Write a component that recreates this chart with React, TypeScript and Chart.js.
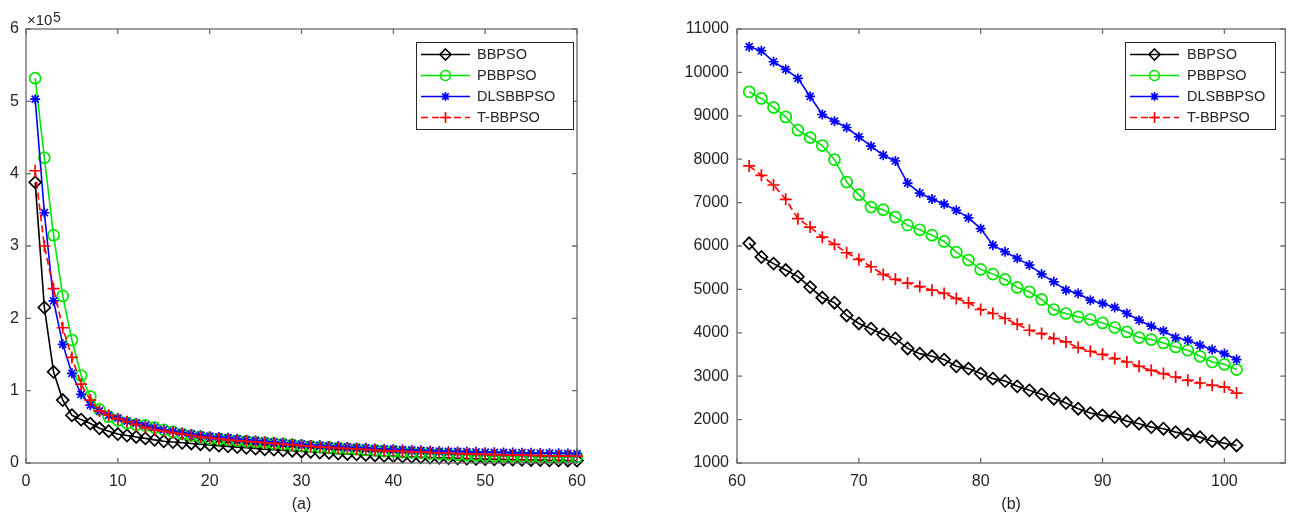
import React, { useEffect, useRef } from 'react';
import { Chart, registerables } from 'chart.js';
Chart.register(...registerables);

const FONT = '"Liberation Sans", Arial, Helvetica, sans-serif';

// ---------- data: panel (a), iterations 1..60, values in units of 1e5 ----------
const itersA = Array.from({ length: 60 }, (_, i) => i + 1);
const bbpsoA = [3.88, 2.15, 1.26, 0.87, 0.66, 0.6, 0.545, 0.48, 0.44, 0.4, 0.38, 0.36, 0.34, 0.32, 0.3, 0.29, 0.28, 0.27, 0.26, 0.25, 0.24, 0.23, 0.22, 0.21, 0.2, 0.19, 0.185, 0.175, 0.17, 0.16, 0.155, 0.145, 0.14, 0.13, 0.125, 0.12, 0.112, 0.105, 0.1, 0.095, 0.09, 0.085, 0.08, 0.076, 0.072, 0.068, 0.064, 0.06, 0.057, 0.054, 0.051, 0.048, 0.046, 0.044, 0.042, 0.04, 0.038, 0.036, 0.035, 0.034];
const pbbpsoA = [5.32, 4.22, 3.15, 2.31, 1.7, 1.21, 0.92, 0.74, 0.64, 0.59, 0.55, 0.53, 0.52, 0.49, 0.46, 0.43, 0.4, 0.38, 0.36, 0.34, 0.33, 0.32, 0.31, 0.3, 0.29, 0.28, 0.27, 0.26, 0.25, 0.24, 0.23, 0.22, 0.215, 0.205, 0.2, 0.19, 0.18, 0.175, 0.165, 0.16, 0.15, 0.145, 0.14, 0.13, 0.125, 0.12, 0.115, 0.11, 0.105, 0.1, 0.098, 0.096, 0.094, 0.092, 0.09, 0.088, 0.087, 0.086, 0.085, 0.084];
const dlsbbpsoA = [5.03, 3.46, 2.24, 1.64, 1.24, 0.95, 0.8, 0.72, 0.66, 0.62, 0.58, 0.55, 0.52, 0.49, 0.46, 0.44, 0.42, 0.4, 0.385, 0.37, 0.36, 0.35, 0.335, 0.32, 0.31, 0.3, 0.29, 0.28, 0.27, 0.26, 0.25, 0.245, 0.235, 0.23, 0.22, 0.215, 0.21, 0.2, 0.195, 0.19, 0.185, 0.18, 0.175, 0.17, 0.165, 0.162, 0.16, 0.157, 0.154, 0.15, 0.148, 0.146, 0.144, 0.142, 0.14, 0.138, 0.136, 0.134, 0.132, 0.13];
const tbbpsoA = [4.04, 3.0, 2.41, 1.87, 1.46, 1.09, 0.87, 0.72, 0.66, 0.61, 0.57, 0.53, 0.49, 0.46, 0.44, 0.42, 0.4, 0.38, 0.36, 0.35, 0.335, 0.32, 0.31, 0.3, 0.29, 0.28, 0.27, 0.26, 0.25, 0.24, 0.23, 0.22, 0.215, 0.205, 0.2, 0.19, 0.185, 0.175, 0.17, 0.165, 0.16, 0.155, 0.15, 0.145, 0.14, 0.135, 0.13, 0.127, 0.124, 0.12, 0.117, 0.114, 0.111, 0.108, 0.105, 0.102, 0.1, 0.098, 0.096, 0.094];

// ---------- data: panel (b), iterations 61..101 ----------
const itersB = Array.from({ length: 41 }, (_, i) => i + 61);
const bbpsoB = [6062, 5746, 5594, 5446, 5294, 5053, 4809, 4694, 4400, 4215, 4093, 3961, 3869, 3640, 3520, 3459, 3383, 3228, 3175, 3060, 2944, 2889, 2766, 2674, 2582, 2482, 2381, 2251, 2150, 2097, 2058, 1965, 1905, 1827, 1790, 1711, 1658, 1596, 1503, 1457, 1404];
const pbbpsoB = [9552, 9400, 9192, 8975, 8668, 8499, 8315, 7991, 7474, 7183, 6897, 6837, 6666, 6481, 6375, 6250, 6105, 5858, 5676, 5461, 5352, 5230, 5045, 4944, 4768, 4537, 4445, 4367, 4306, 4228, 4122, 4020, 3891, 3845, 3766, 3674, 3598, 3459, 3327, 3274, 3152];
const dlsbbpsoB = [10591, 10499, 10245, 10069, 9862, 9446, 9030, 8876, 8730, 8513, 8299, 8091, 7959, 7451, 7220, 7082, 6966, 6821, 6650, 6400, 6020, 5867, 5715, 5560, 5352, 5175, 4983, 4907, 4752, 4676, 4584, 4445, 4290, 4152, 4043, 3891, 3829, 3713, 3614, 3521, 3383];
const tbbpsoB = [7844, 7629, 7405, 7075, 6629, 6435, 6204, 6036, 5845, 5690, 5522, 5345, 5231, 5145, 5065, 4983, 4907, 4791, 4690, 4537, 4445, 4330, 4198, 4059, 3983, 3868, 3789, 3660, 3575, 3505, 3406, 3327, 3228, 3136, 3060, 2981, 2905, 2843, 2789, 2750, 2612];

const seriesNames = ['BBPSO', 'PBBPSO', 'DLSBBPSO', 'T-BBPSO'];
const seriesColors = ['#000000', '#00e600', '#0000ff', '#ff0000'];
const seriesMarkers = ['rectRot', 'circle', 'star', 'cross'];
const seriesRadius = [6, 5.5, 5, 6];
const seriesDash: number[][] = [[], [], [], [7, 4]];

const AXIS_COLOR = '#6a6a6a';
const TEXT_COLOR = '#262626';

function drawMarker(ctx: CanvasRenderingContext2D, style: string, x: number, y: number, r: number) {
  ctx.beginPath();
  if (style === 'rectRot') {
    ctx.moveTo(x, y - r); ctx.lineTo(x + r, y); ctx.lineTo(x, y + r); ctx.lineTo(x - r, y); ctx.closePath();
  } else if (style === 'circle') {
    ctx.arc(x, y, r, 0, Math.PI * 2);
  } else if (style === 'cross') {
    ctx.moveTo(x - r, y); ctx.lineTo(x + r, y); ctx.moveTo(x, y - r); ctx.lineTo(x, y + r);
  } else {
    const d = r * Math.SQRT1_2;
    ctx.moveTo(x - r, y); ctx.lineTo(x + r, y); ctx.moveTo(x, y - r); ctx.lineTo(x, y + r);
    ctx.moveTo(x - d, y - d); ctx.lineTo(x + d, y + d); ctx.moveTo(x - d, y + d); ctx.lineTo(x + d, y - d);
  }
  ctx.stroke();
}

const matlabAxes = {
  id: 'matlabAxes',
  afterDraw(chart: any, _args: any, opts: any) {
    const ctx: CanvasRenderingContext2D = chart.ctx;
    const { left, right, top, bottom } = chart.chartArea;
    const xs = chart.scales.x;
    const ys = chart.scales.y;
    ctx.save();
    // box
    ctx.strokeStyle = AXIS_COLOR;
    ctx.lineWidth = 1.3;
    ctx.setLineDash([]);
    ctx.strokeRect(left, top, right - left, bottom - top);
    // inward ticks
    const tl = 5;
    ctx.beginPath();
    xs.ticks.forEach((t: any) => {
      const px = xs.getPixelForValue(t.value);
      ctx.moveTo(px, bottom); ctx.lineTo(px, bottom - tl);
      ctx.moveTo(px, top); ctx.lineTo(px, top + tl);
    });
    ys.ticks.forEach((t: any) => {
      const py = ys.getPixelForValue(t.value);
      ctx.moveTo(left, py); ctx.lineTo(left + tl, py);
      ctx.moveTo(right, py); ctx.lineTo(right - tl, py);
    });
    ctx.stroke();

    // exponent label
    if (opts.exponent) {
      ctx.fillStyle = TEXT_COLOR;
      ctx.textBaseline = 'alphabetic';
      ctx.textAlign = 'left';
      ctx.font = `15px ${FONT}`;
      ctx.fillText('×10', left + 1, top - 4);
      const w = ctx.measureText('×10').width;
      ctx.font = `14px ${FONT}`;
      ctx.fillText(opts.exponent, left + 1.5 + w, top - 7);
    }

    // x label
    ctx.fillStyle = TEXT_COLOR;
    ctx.font = `16px ${FONT}`;
    ctx.textAlign = 'center';
    ctx.textBaseline = 'middle';
    ctx.fillText(opts.xlabel, (left + right) / 2, 505);

    // legend
    const lb = opts.legend;
    ctx.fillStyle = '#ffffff';
    ctx.fillRect(lb.x1, lb.y1, lb.x2 - lb.x1, lb.y2 - lb.y1);
    ctx.strokeStyle = '#262626';
    ctx.lineWidth = 1;
    ctx.strokeRect(lb.x1 + 0.5, lb.y1 + 0.5, lb.x2 - lb.x1, lb.y2 - lb.y1);
    const rowH = 21;
    seriesNames.forEach((name, i) => {
      const cy = lb.y1 + 12.5 + i * rowH;
      ctx.strokeStyle = seriesColors[i];
      ctx.lineWidth = 1.6;
      ctx.setLineDash(seriesDash[i]);
      ctx.beginPath();
      ctx.moveTo(lb.x1 + 5, cy);
      ctx.lineTo(lb.x1 + 54, cy);
      ctx.stroke();
      ctx.setLineDash([]);
      drawMarker(ctx, seriesMarkers[i], lb.x1 + 29.5, cy, seriesRadius[i] - 0.5);
      ctx.fillStyle = TEXT_COLOR;
      ctx.font = `14.5px ${FONT}`;
      ctx.textAlign = 'left';
      ctx.textBaseline = 'middle';
      ctx.fillText(name, lb.x1 + lb.text, cy + 0.5);
    });
    ctx.restore();
  },
};

function buildDatasets(xs: number[], arrays: number[][]) {
  return arrays.map((arr, i) => ({
    label: seriesNames[i],
    data: arr.map((v, j) => ({ x: xs[j], y: v })),
    borderColor: seriesColors[i],
    backgroundColor: 'rgba(0,0,0,0)',
    borderWidth: 1.6,
    borderDash: seriesDash[i],
    pointStyle: seriesMarkers[i],
    pointRadius: seriesRadius[i],
    pointBorderWidth: 1.7,
    pointBorderColor: seriesColors[i],
    pointBackgroundColor: 'rgba(0,0,0,0)',
    tension: 0,
    clip: false as any,
    order: 4 - i,
  }));
}

function makeConfig(p: any) {
  return {
    type: 'line' as const,
    data: { datasets: buildDatasets(p.xs, p.arrays) },
    options: {
      responsive: false,
      animation: false as const,
      devicePixelRatio: 1,
      events: [],
      layout: { padding: { left: 0, right: p.padRight, top: 29, bottom: 0 } },
      plugins: {
        legend: { display: false },
        tooltip: { enabled: false },
        matlabAxes: p.axesOpts,
      },
      scales: {
        x: {
          type: 'linear' as const,
          min: p.xMin, max: p.xMax,
          grid: { display: false, drawTicks: false },
          border: { display: false },
          afterFit: (s: any) => { s.height = 58; },
          ticks: {
            stepSize: 10, includeBounds: false, padding: 9,
            color: TEXT_COLOR, font: { family: FONT, size: 16 },
            maxRotation: 0, autoSkip: false,
            callback: (v: any) => String(v),
          },
        },
        y: {
          type: 'linear' as const,
          min: p.yMin, max: p.yMax,
          grid: { display: false, drawTicks: false },
          border: { display: false },
          afterFit: (s: any) => { s.width = p.yWidth; },
          ticks: {
            stepSize: p.yStep, padding: p.yPad,
            color: TEXT_COLOR, font: { family: FONT, size: 16 },
            autoSkip: false,
            callback: (v: any) => String(v),
          },
        },
      },
    },
    plugins: [matlabAxes],
  };
}

function Panel(props: { left: number; width: number; cfg: any }) {
  const ref = useRef<HTMLCanvasElement>(null);
  useEffect(() => {
    const chart = new Chart(ref.current as HTMLCanvasElement, props.cfg);
    return () => chart.destroy();
  }, []);
  return (
    <div style={{ position: 'absolute', left: props.left, top: 0, width: props.width, height: 521 }}>
      <canvas ref={ref} width={props.width} height={521} style={{ display: 'block' }} />
    </div>
  );
}

const cfgA = makeConfig({
  xs: itersA,
  arrays: [bbpsoA, pbbpsoA, dlsbbpsoA, tbbpsoA],
  xMin: 0, xMax: 60, yMin: 0, yMax: 6, yStep: 1,
  yWidth: 26, yPad: 7, padRight: 646 - 577,
  axesOpts: { xlabel: '(a)', exponent: '5', legend: { x1: 416, x2: 573, y1: 42, y2: 129, text: 61 } },
});

const cfgB = makeConfig({
  xs: itersB,
  arrays: [bbpsoB, pbbpsoB, dlsbbpsoB, tbbpsoB],
  xMin: 60, xMax: 105, yMin: 1000, yMax: 11000, yStep: 1000,
  yWidth: 91, yPad: 8, padRight: 647 - 642,
  axesOpts: { xlabel: '(b)', exponent: '', legend: { x1: 1125 - 646, x2: 1275 - 646, y1: 42, y2: 129, text: 62 } },
});

export default function App() {
  return (
    <div style={{ position: 'fixed', left: 0, top: 0, width: 1293, height: 521, background: '#ffffff', overflow: 'hidden' }}>
      <Panel left={0} width={646} cfg={cfgA} />
      <Panel left={646} width={647} cfg={cfgB} />
    </div>
  );
}
